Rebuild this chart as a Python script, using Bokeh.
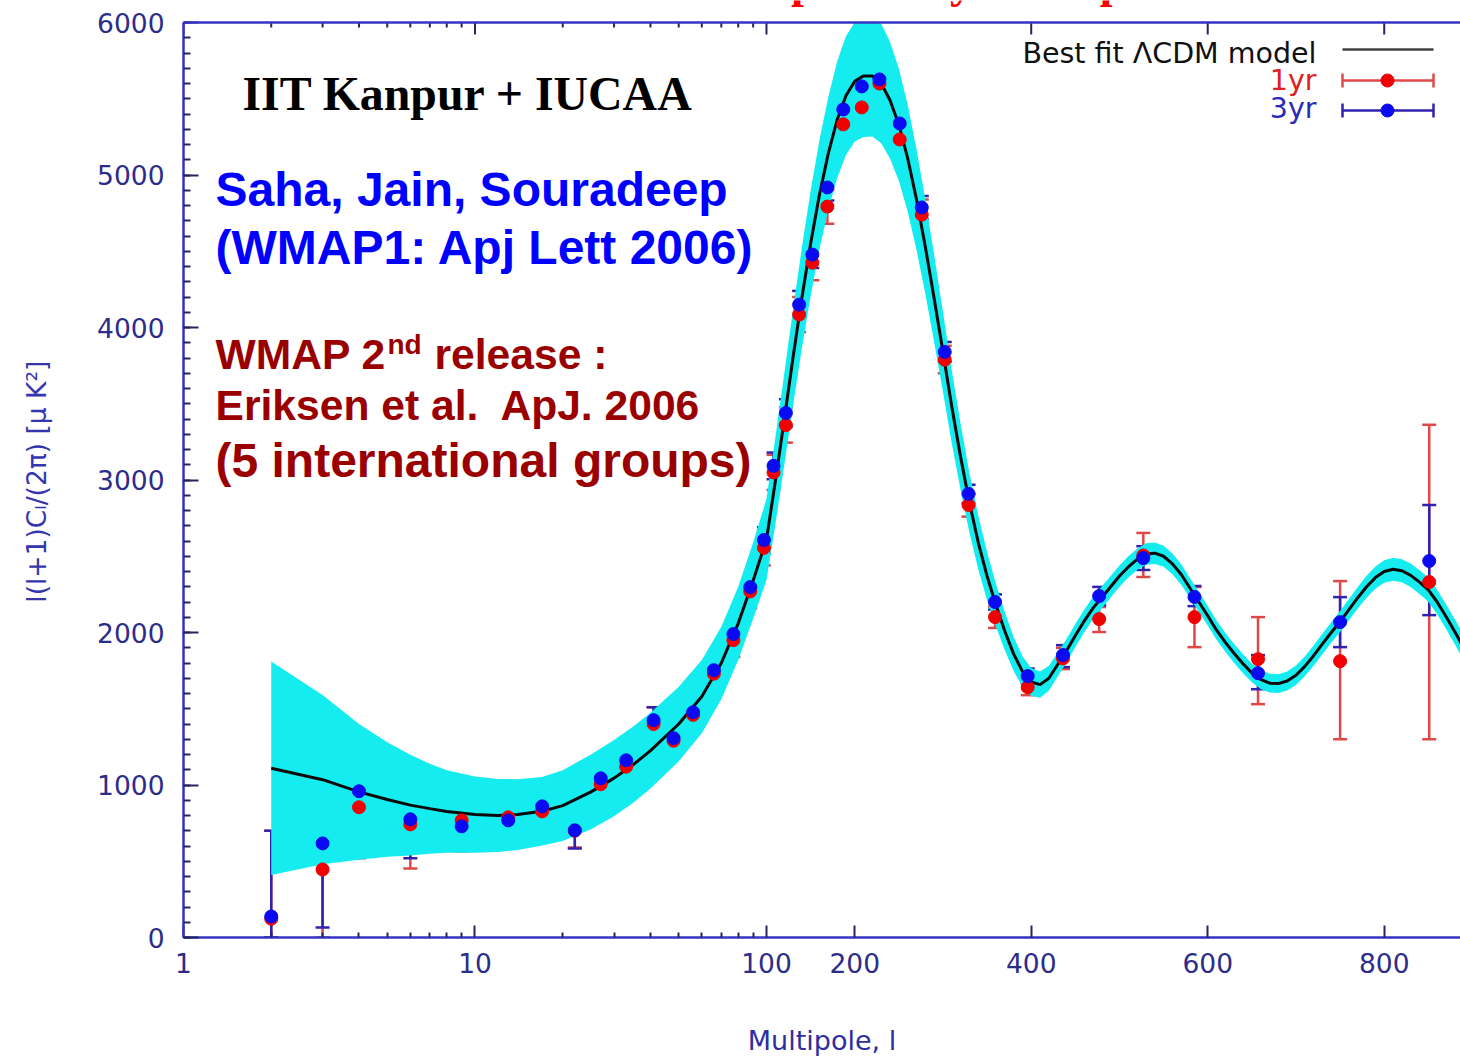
import numpy as np
from bokeh.plotting import figure
from bokeh.models import (Range1d, FixedTicker, SingleIntervalTicker, Span,
                          Label, Whisker, TeeHead, ColumnDataSource)
from bokeh.embed import file_html
from bokeh.resources import INLINE

# ---------------------------------------------------------------------------
# Best-fit LCDM model and its cosmic-variance band
# ---------------------------------------------------------------------------
model_ell = [2, 3, 4, 5, 6, 7, 8, 10, 12, 14, 17, 20, 25, 30, 35, 40, 50, 60, 70, 80, 90, 100,
             110, 120, 130, 140, 150, 160, 170, 180, 190, 200,
             210, 220, 230, 240, 250, 260, 270, 280, 290, 300,
             310, 320, 330, 340, 350, 360, 370, 380, 390, 400,
             410, 420, 430, 440, 450, 460, 470, 480, 490, 500,
             510, 520, 530, 540, 550, 560, 570, 580, 590, 600,
             610, 620, 630, 640, 650, 660, 670, 680, 690, 700,
             710, 720, 730, 740, 750, 760, 770, 780, 790, 800,
             810, 820, 830, 840, 850, 860, 870, 880, 890]
model_cl = [1110, 1035, 955, 905, 868, 845, 826, 806, 800, 806, 828, 865, 955, 1045, 1135, 1225,
            1400, 1580, 1800, 2060, 2340, 2610,
            2990, 3390, 3800, 4190, 4550, 4870, 5140, 5360, 5520, 5615,
            5650, 5650, 5600, 5490, 5330, 5110, 4840, 4530, 4190, 3840,
            3480, 3150, 2850, 2590, 2370, 2180, 2010, 1860, 1745, 1675,
            1658, 1700, 1790, 1880, 1980, 2075, 2160, 2230, 2300, 2370,
            2430, 2480, 2515, 2520, 2500, 2450, 2380, 2290, 2200, 2110,
            2015, 1935, 1862, 1795, 1735, 1692, 1668, 1665, 1682, 1720,
            1778, 1848, 1925, 2000, 2072, 2150, 2228, 2300, 2360, 2400,
            2415, 2405, 2375, 2330, 2280, 2200, 2105, 2005, 1900]
band_halfwidth = [700, 555, 445, 375, 330, 295, 270, 250, 240, 232, 225, 232, 245, 250, 250, 248,
                  245, 240, 238, 240, 250, 265,
                  285, 300, 315, 330, 345, 358, 370, 382, 390, 396,
                  400, 398, 392, 382, 368, 350, 330, 308, 285, 262,
                  240, 218, 196, 176, 158, 140, 125, 112, 100, 92,
                  86, 82, 79, 77, 75, 74, 73, 72, 71, 70,
                  70, 70, 70, 70, 69, 68, 67, 66, 65, 64,
                  63, 62, 62, 62, 62, 62, 62, 62, 63, 64,
                  65, 66, 67, 68, 69, 70, 71, 72, 73, 74,
                  75, 76, 77, 78, 79, 80, 81, 82, 83]

# ---------------------------------------------------------------------------
# Binned WMAP spectra: 1-year (red) and 3-year (blue)
# ---------------------------------------------------------------------------
bin_ell = [2, 3, 4, 6, 9, 13, 17, 22, 27, 33, 41, 48, 56, 66, 77, 88, 98,
           108, 122, 137, 152, 169, 187, 208, 228, 251, 276, 302, 329, 359, 396,
           436, 477, 527, 585, 657, 750, 851]

cl_3yr = [138, 617, 959, 775, 729, 768, 860, 703, 1044, 1162, 1425, 1307, 1477, 1753, 1990, 2298, 2607,
          3093, 3440, 4150, 4478, 4918, 5430, 5581, 5627, 5338, 4787, 3840, 2909, 2200, 1714,
          1852, 2239, 2488, 2233, 1733, 2068, 2469]
lo_3yr = [0, 66, 630, 519, 571, 617, 722, 584, 950, 1065, 1340, 1225, 1395, 1675, 1910, 2215, 2520,
          3005, 3350, 4060, 4390, 4833, 5345, 5481, 5528, 5263, 4712, 3775, 2849, 2150, 1664,
          1773, 2179, 2410, 2173, 1628, 1904, 2114]
hi_3yr = [700, 1162, 1274, 1050, 919, 939, 965, 814, 1130, 1261, 1510, 1390, 1560, 1830, 2070, 2380, 2690,
          3180, 3530, 4240, 4565, 5003, 5515, 5680, 5712, 5410, 4862, 3905, 2969, 2250, 1764,
          1917, 2299, 2566, 2305, 1852, 2232, 2836]

cl_1yr = [123, 446, 854, 742, 768, 788, 827, 700, 1005, 1120, 1400, 1290, 1460, 1730, 1950, 2270, 2555,
          3050, 3360, 4085, 4425, 4793, 5332, 5443, 5600, 5233, 4740, 3789, 2836, 2101, 1641,
          1830, 2088, 2505, 2101, 1825, 1812, 2331]
lo_1yr = [0, 0, 519, 453, 565, 600, 690, 590, 890, 1000, 1290, 1180, 1350, 1620, 1840, 2160, 2440,
          2935, 3245, 3970, 4310, 4680, 5220, 5318, 5480, 5148, 4640, 3700, 2760, 2030, 1589,
          1760, 2003, 2364, 1904, 1530, 1300, 1300]
hi_1yr = [700, 1018, 1195, 1050, 935, 955, 960, 815, 1115, 1240, 1510, 1400, 1570, 1840, 2060, 2380, 2670,
          3165, 3475, 4200, 4540, 4905, 5445, 5570, 5720, 5320, 4840, 3880, 2910, 2170, 1700,
          1900, 2167, 2653, 2298, 2101, 2337, 3362]

x_tick_ell = [1, 10, 100, 200, 400, 600, 800]
x_tick_text = ["1", "10", "100", "200", "400", "600", "800"]
x_minor_ell = [2, 3, 4, 5, 6, 7, 8, 9, 20, 30, 40, 50, 60, 70, 80, 90]

# ---------------------------------------------------------------------------
# Hybrid multipole axis: logarithmic up to l = 100, linear above
# ---------------------------------------------------------------------------
LIN_SCALE = 330.3


def axis_pos(ell):
    ell = np.asarray(ell, dtype=float)
    return np.where(ell <= 100, np.log10(np.maximum(ell, 1e-9)), 2.0 + (ell - 100.0) / LIN_SCALE)


# the frame reaches the top of the canvas so the slide heading above the
# plot box can be drawn; the plotted box itself stops at 6000
FRAME_L, FRAME_R, FRAME_B = 183, 1460, 937
BOX_T = 22
Y_MAX = 6000.0
UNITS_PER_PX = Y_MAX / (FRAME_B - BOX_T)
Y_END = FRAME_B * UNITS_PER_PX
X_END = 4.381


def px2x(px):
    return (px - FRAME_L) / (FRAME_R - FRAME_L) * X_END


def py2y(py):
    return (FRAME_B - py) * UNITS_PER_PX


AXIS_BLUE = "#3434c4"
TICK_COL = "#26265e"
LABEL_COL = "#2c2c8a"
TXT_FONT = "DejaVu Sans"

p = figure(width=1460, height=1059, x_range=Range1d(0, X_END), y_range=Range1d(0, Y_END),
           output_backend="svg", toolbar_location=None,
           min_border_left=FRAME_L, min_border_right=0, min_border_top=0,
           min_border_bottom=1059 - FRAME_B)
p.outline_line_color = None
p.grid.visible = False
p.background_fill_color = "white"
p.border_fill_color = "white"

x_ticks = [float(v) for v in axis_pos(x_tick_ell)]
x_minor = [float(v) for v in axis_pos(x_minor_ell)]
x_ticker = FixedTicker(ticks=x_ticks, minor_ticks=x_minor)

xa = p.xaxis[0]
xa.ticker = x_ticker
xa.major_label_overrides = {v: t for v, t in zip(x_ticks, x_tick_text)}
xa.axis_label = "Multipole, l"
xa.axis_label_text_font = TXT_FONT
xa.axis_label_text_font_size = "27px"
xa.axis_label_text_font_style = "normal"
xa.axis_label_text_color = "#2e2ea0"
xa.axis_label_standoff = 49

ya = p.yaxis[0]
ya.ticker = SingleIntervalTicker(interval=1000, num_minor_ticks=10)
ya.bounds = (0, Y_MAX)
# trailing no-break spaces keep the title centred on the plot box rather than the canvas
ya.axis_label = "l(l+1)C\u2097/(2\u03c0) [\u03bc K\u00b2]\u00a0\u00a0\u00a0"
ya.axis_label_text_font = TXT_FONT
ya.axis_label_text_font_size = "26.5px"
ya.axis_label_text_font_style = "normal"
ya.axis_label_text_color = "#3535b0"
ya.axis_label_standoff = 42

for ax in (xa, ya):
    ax.axis_line_color = AXIS_BLUE
    ax.axis_line_width = 2.5
    ax.major_tick_line_color = TICK_COL
    ax.minor_tick_line_color = TICK_COL
    ax.major_tick_line_width = 2
    ax.minor_tick_line_width = 2
    ax.major_tick_out = 0
    ax.minor_tick_out = 0
    ax.major_label_text_font = TXT_FONT
    ax.major_label_text_font_size = "26.5px"
    ax.major_label_text_color = LABEL_COL
xa.major_tick_in = 12
xa.minor_tick_in = 5
ya.major_tick_in = 15
ya.minor_tick_in = 7
xa.major_label_standoff = 15
ya.major_label_standoff = 19

# top edge of the plot box with mirrored tick marks
p.add_layout(Span(location=Y_MAX, dimension="width", line_color=AXIS_BLUE, line_width=2.5))
p.segment(x0=x_ticks, y0=[Y_MAX] * len(x_ticks), x1=x_ticks,
          y1=[Y_MAX - 12 * UNITS_PER_PX] * len(x_ticks), line_color=TICK_COL, line_width=2)
p.segment(x0=x_minor, y0=[Y_MAX] * len(x_minor), x1=x_minor,
          y1=[Y_MAX - 5 * UNITS_PER_PX] * len(x_minor), line_color=TICK_COL, line_width=2)

# cosmic-variance band (cut at the top of the box) and model curve
mx = axis_pos(model_ell)
mcl = np.array(model_cl, dtype=float)
mhw = np.array(band_halfwidth, dtype=float)
p.varea(x=mx, y1=mcl - mhw, y2=np.minimum(mcl + mhw, Y_MAX), fill_color="#14ecf0")
p.line(mx, mcl, line_color="#0a0a0a", line_width=3)

# binned spectra with error bars (1-year below, 3-year on top)
for cl, lo, hi, bar_col, dot_col in ((cl_1yr, lo_1yr, hi_1yr, "#e04848", "#f00000"),
                                     (cl_3yr, lo_3yr, hi_3yr, "#3022b0", "#0a0af0")):
    src = ColumnDataSource(dict(x=axis_pos(bin_ell), cl=cl, lo=lo, hi=hi))
    p.add_layout(Whisker(source=src, base="x", lower="lo", upper="hi", dimension="height",
                         line_color=bar_col, line_width=2.5,
                         upper_head=TeeHead(size=14, line_color=bar_col, line_width=2.5),
                         lower_head=TeeHead(size=14, line_color=bar_col, line_width=2.5)))
    p.scatter("x", "cl", source=src, marker="circle", size=13,
              fill_color=dot_col, line_color=dot_col)

# legend block (top right)
leg_x0, leg_x1, leg_xm = px2x(1342), px2x(1433), px2x(1387)
p.segment(x0=[leg_x0], y0=[py2y(49)], x1=[leg_x1], y1=[py2y(49)], line_color="#404040", line_width=2.5)
for row_py, bar_col, dot_col in ((80, "#e04848", "#f00000"), (110, "#3022b0", "#0a0af0")):
    yy = py2y(row_py)
    p.segment(x0=[leg_x0], y0=[yy], x1=[leg_x1], y1=[yy], line_color=bar_col, line_width=2.5)
    p.segment(x0=[leg_x0, leg_x1], y0=[py2y(row_py - 7)] * 2, x1=[leg_x0, leg_x1],
              y1=[py2y(row_py + 7)] * 2, line_color=bar_col, line_width=2.5)
    p.scatter([leg_xm], [yy], marker="circle", size=13, fill_color=dot_col, line_color=dot_col)


def add_text(txt, px, py, size, color, font="Liberation Sans", style="bold", align="left"):
    # py is the wanted baseline; the text box is anchored a little above it
    p.add_layout(Label(x=px2x(px), y=py2y(py - 0.36 * size), text=txt, text_font=font,
                       text_font_size=f"{size}px", text_font_style=style, text_color=color,
                       text_align=align, text_baseline="alphabetic"))


add_text("Best fit \u039bCDM model", 1316, 63, 28.5, "#111111", font=TXT_FONT, style="normal", align="right")
add_text("1yr", 1316, 90, 28.5, "#e02020", font=TXT_FONT, style="normal", align="right")
add_text("3yr", 1316, 118, 28.5, "#2a2ab8", font=TXT_FONT, style="normal", align="right")

# slide annotations
add_text("Blind estimate of CMB power by other procedures", 328, -2, 46, "#ff0000",
         font="Liberation Serif")
add_text("IIT Kanpur + IUCAA", 242, 110, 47.8, "#000000", font="Liberation Serif")
add_text("Saha, Jain, Souradeep", 215, 206, 48, "#0000ff")
add_text("(WMAP1: Apj Lett 2006)", 215, 264, 48, "#0000ff")
add_text("WMAP 2", 215, 369, 42.6, "#9b0000")
add_text("nd", 387, 354, 28, "#9b0000")
add_text("release :", 434, 369, 42.6, "#9b0000")
add_text("Eriksen et al.\u00a0 ApJ. 2006", 215, 420, 42.6, "#9b0000")
add_text("(5 international groups)", 215, 477, 48, "#9b0000")

open("out.html", "w").write(file_html(p, INLINE))
